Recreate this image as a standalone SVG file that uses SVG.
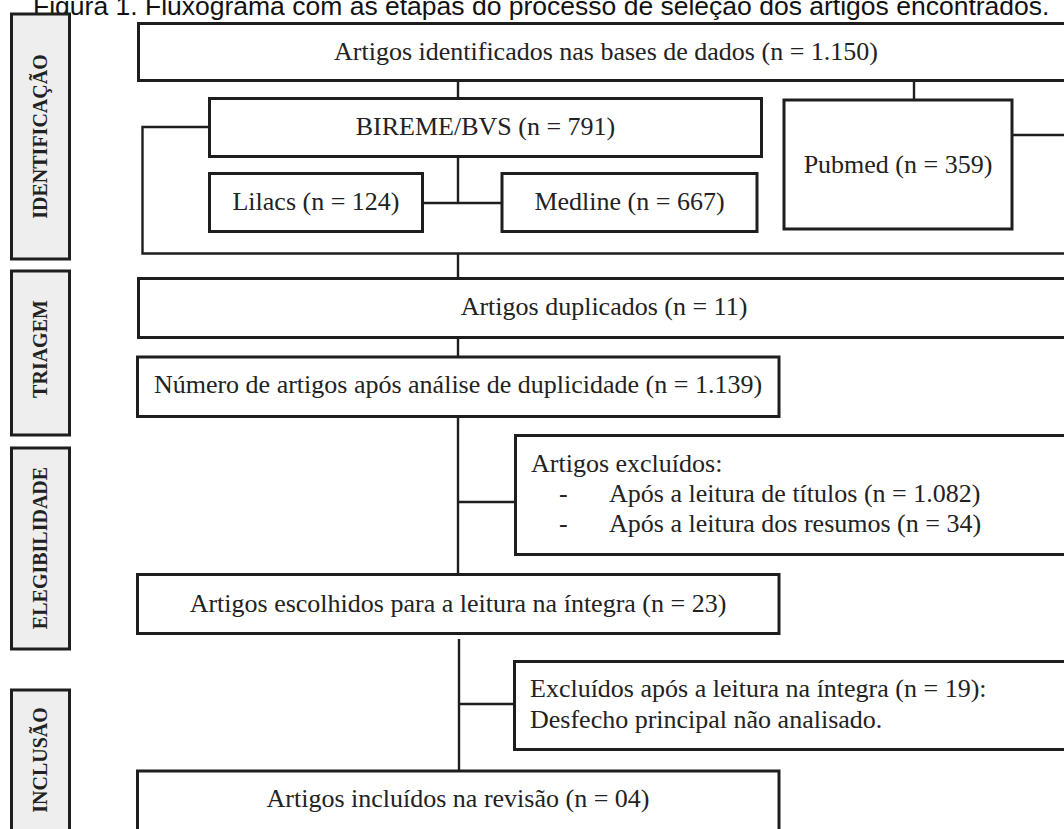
<svg xmlns="http://www.w3.org/2000/svg" width="1064" height="829" viewBox="0 0 1064 829">
<style>
.bg{fill:#ffffff}
.box{fill:#ffffff;stroke:#1e1e1e;stroke-width:3}
.lab{fill:#eeeeee;stroke:#1e1e1e;stroke-width:3}
.t{font-family:"Liberation Serif","Times New Roman",serif;font-size:26px;fill:#222222}
.c{text-anchor:middle}
.lt{font-family:"Liberation Serif","Times New Roman",serif;font-size:20px;font-weight:bold;fill:#222222;text-anchor:middle}
.cap{font-family:"Liberation Sans",Arial,sans-serif;font-size:26.5px;fill:#111111}
.ln{fill:none;stroke:#1e1e1e;stroke-width:2.4}
</style>
<rect class="bg" x="0" y="0" width="1064" height="829"/>
<g id="caption">
<text class="cap" x="33" y="15">Figura 1. Fluxograma com as etapas do processo de seleção dos artigos encontrados.</text>
</g>
<g id="label-identificacao">
<rect class="lab" x="11.5" y="14" width="58" height="245"/>
<text class="lt" transform="translate(47 136.5) rotate(-90)">IDENTIFICAÇÃO</text>
</g>
<g id="label-triagem">
<rect class="lab" x="11.5" y="271" width="58" height="164"/>
<text class="lt" transform="translate(47 349) rotate(-90)">TRIAGEM</text>
</g>
<g id="label-elegibilidade">
<rect class="lab" x="11.5" y="448" width="58" height="201"/>
<text class="lt" transform="translate(47 548) rotate(-90)">ELEGIBILIDADE</text>
</g>
<g id="label-inclusao">
<rect class="lab" x="11.5" y="690" width="58" height="160"/>
<text class="lt" transform="translate(47 760) rotate(-90)">INCLUSÃO</text>
</g>
<g id="connectors">
<path class="ln" d="M458 81 V98"/>
<path class="ln" d="M914 81 V100"/>
<path class="ln" d="M458 157 V203 M423 203 H502"/>
<path class="ln" d="M209 127 H142.5 V253.5 H1066"/>
<path class="ln" d="M1012 135 H1066"/>
<path class="ln" d="M458 253.5 V278"/>
<path class="ln" d="M458 338 V357"/>
<path class="ln" d="M458 417 V574"/>
<path class="ln" d="M458 502 H515"/>
<path class="ln" d="M459 639 V771"/>
<path class="ln" d="M459 704 H514"/>
</g>
<g id="n-total">
<rect class="box" x="138.5" y="23.5" width="940" height="57"/>
<text class="t c" x="606" y="60">Artigos identificados nas bases de dados (n = 1.150)</text>
</g>
<g id="n-bireme">
<rect class="box" x="209.5" y="98.5" width="552" height="58"/>
<text class="t c" x="485.5" y="135">BIREME/BVS (n = 791)</text>
</g>
<g id="n-lilacs">
<rect class="box" x="209.5" y="173.5" width="213" height="58"/>
<text class="t c" x="316" y="210">Lilacs (n = 124)</text>
</g>
<g id="n-medline">
<rect class="box" x="502" y="173.5" width="255" height="58"/>
<text class="t c" x="629.5" y="210">Medline (n = 667)</text>
</g>
<g id="n-pubmed">
<rect class="box" x="784" y="100" width="228" height="129"/>
<text class="t c" x="898" y="172.5">Pubmed (n = 359)</text>
</g>
<g id="n-duplicados">
<rect class="box" x="138.5" y="278.5" width="940" height="59"/>
<text class="t c" x="604" y="315">Artigos duplicados (n = 11)</text>
</g>
<g id="n-numero">
<rect class="box" x="137.5" y="357" width="641.5" height="59.5"/>
<text class="t c" x="458" y="393">Número de artigos após análise de duplicidade (n = 1.139)</text>
</g>
<g id="n-excluidos">
<rect class="box" x="515.5" y="435.5" width="560" height="119"/>
<text class="t" x="531" y="471.5">Artigos excluídos:</text>
<text class="t" x="559" y="501.5">-</text>
<text class="t" x="609" y="501.5">Após a leitura de títulos (n = 1.082)</text>
<text class="t" x="559" y="531.5">-</text>
<text class="t" x="609" y="531.5">Após a leitura dos resumos (n = 34)</text>
</g>
<g id="n-escolhidos">
<rect class="box" x="137.5" y="574.5" width="641.5" height="59"/>
<text class="t c" x="458" y="611.5">Artigos escolhidos para a leitura na íntegra (n = 23)</text>
</g>
<g id="n-excluidos-integra">
<rect class="box" x="514.5" y="661.5" width="560" height="88"/>
<text class="t" x="530" y="696.5">Excluídos após a leitura na íntegra (n = 19):</text>
<text class="t" x="530" y="728">Desfecho principal não analisado.</text>
</g>
<g id="n-incluidos">
<rect class="box" x="137.5" y="771" width="641.5" height="100"/>
<text class="t c" x="458" y="806.5">Artigos incluídos na revisão (n = 04)</text>
</g>
</svg>
